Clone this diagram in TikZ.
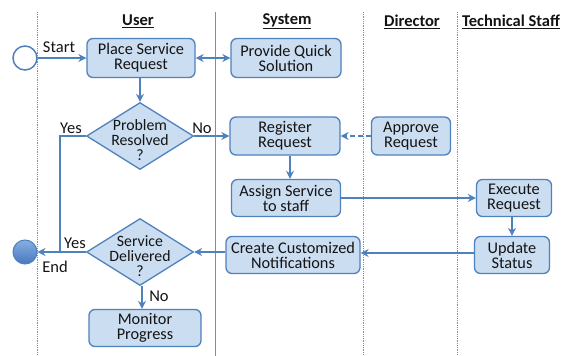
\documentclass[tikz,border=0pt]{standalone}
\usepackage{fontspec}
\setmainfont{Carlito}
\usetikzlibrary{shapes.geometric,arrows.meta}
\definecolor{lineblue}{RGB}{79,129,189}
\definecolor{boxfill}{RGB}{203,221,241}
\definecolor{txtc}{RGB}{20,20,20}
\definecolor{lanegray}{RGB}{140,140,140}
\definecolor{endtop}{RGB}{135,175,228}
\definecolor{endbot}{RGB}{70,120,190}
\tikzset{
 box/.style={draw=lineblue, line width=1.3pt, fill=boxfill, rounded corners=6pt, align=center, inner sep=0pt, font=\fontsize{16.3}{15}\selectfont, text=txtc},
 dia/.style={diamond, draw=lineblue, line width=1.3pt, fill=boxfill, inner sep=0pt, minimum width=107pt, minimum height=67pt},
 diatext/.style={align=center, inner sep=0pt, font=\fontsize{15.8}{15.2}\selectfont, text=txtc},
 flow/.style={draw=lineblue, line width=2pt, -{Stealth[length=8pt,width=8pt]}},
 plain/.style={draw=lineblue, line width=2pt},
 lbl/.style={font=\fontsize{16.5}{16}\selectfont, text=txtc, inner sep=0pt},
 head/.style={font=\bfseries\fontsize{16.5}{16}\selectfont, text=txtc, inner sep=0pt},
 lane/.style={draw=lanegray, line width=0.8pt},
}
\begin{document}
\begin{tikzpicture}[x=1pt,y=-1pt]
\fill[white] (0,0) rectangle (565,356);
\useasboundingbox (0,0) rectangle (565,356);
% lanes
\draw[lane, densely dotted] (37,12) -- (37,356);
\draw[lane] (215,12) -- (215,356);
\draw[lane, densely dotted] (363,12) -- (363,356);
\draw[lane, densely dotted] (457,12) -- (457,356);
% headers
\node[head] (hUser) at (138,21) {\underline{User}};
\node[head] (hSys) at (287,21) {\underline{System}};
\node[head] (hDir) at (412,22) {\underline{Director}};
\node[head] (hTech) at (511,22) {\underline{Technical Staff}};
% nodes
\node[circle, draw=lineblue, line width=1.5pt, fill=white, minimum size=24pt, inner sep=0pt] (start) at (25,58) {};
\node[box, minimum width=108pt, minimum height=39pt] (place) at (141,58) {Place Service\\Request};
\node[box, minimum width=110pt, minimum height=39pt] (provide) at (286,58) {Provide Quick\\Solution};
\node[dia] (d1) at (140,136) {};
\node[diatext] (d1t) at (140,140) {Problem\\Resolved\\?};
\node[box, minimum width=110pt, minimum height=38pt] (register) at (285,136) {Register\\Request};
\node[box, minimum width=79pt, minimum height=38pt] (approve) at (411,136) {Approve\\Request};
\node[box, minimum width=109pt, minimum height=37pt] (assign) at (286,198) {Assign Service\\to staff};
\node[box, minimum width=75pt, minimum height=37pt] (execute) at (514,198) {Execute\\Request};
\node[box, minimum width=75pt, minimum height=37pt] (update) at (512,255) {Update\\Status};
\node[box, minimum width=134pt, minimum height=37pt] (create) at (293,255) {Create Customized\\Notifications};
\node[dia] (d2) at (140,252) {};
\node[diatext] (d2t) at (140,256) {Service\\Delivered\\?};
\node[circle, draw=lineblue, line width=1pt, top color=endtop, bottom color=endbot, minimum size=24pt, inner sep=0pt] (endc) at (25,252) {};
\node[box, minimum width=112pt, minimum height=37pt] (monitor) at (145,328) {Monitor\\Progress};
% connectors
\draw[flow] (start.east) -- (start.east -| place.west);
\node[lbl] (lStart) at (59,47) {Start};
\draw[flow, {Stealth[length=8pt,width=8pt]}-{Stealth[length=8pt,width=8pt]}] (place.east) -- (place.east -| provide.west);
\draw[flow] (place.south -| d1.north) -- (d1.north);
\draw[flow] (d1.east) -- (d1.east -| register.west);
\node[lbl] (lNo1) at (202,128) {No};
\coordinate (join) at (60,252);
\draw[plain] (d1.west) -| (join);
\node[lbl] (lYes1) at (71,128) {Yes};
\draw[flow, dash pattern=on 5pt off 3pt] (approve.west) -- (approve.west -| register.east);
\draw[flow] ([xshift=5pt]register.south) -- ([xshift=5pt]register.south |- assign.north);
\draw[flow] (assign.east) -- (assign.east -| execute.west);
\draw[flow] (execute.south -| update.north) -- (update.north);
\draw[flow] ([yshift=2pt]update.west) -- ([yshift=2pt]update.west -| create.east);
\draw[flow] (d2.east -| create.west) -- (d2.east);
\draw[flow] (d2.west) -- (endc.east);
\node[lbl] (lYes2) at (75,243) {Yes};
\node[lbl] (lEnd) at (55,267) {End};
\draw[flow] ([xshift=2pt]d2.south) -- ([xshift=2pt]d2.south |- monitor.north);
\node[lbl] (lNo2) at (159,296) {No};
\end{tikzpicture}
\end{document}
